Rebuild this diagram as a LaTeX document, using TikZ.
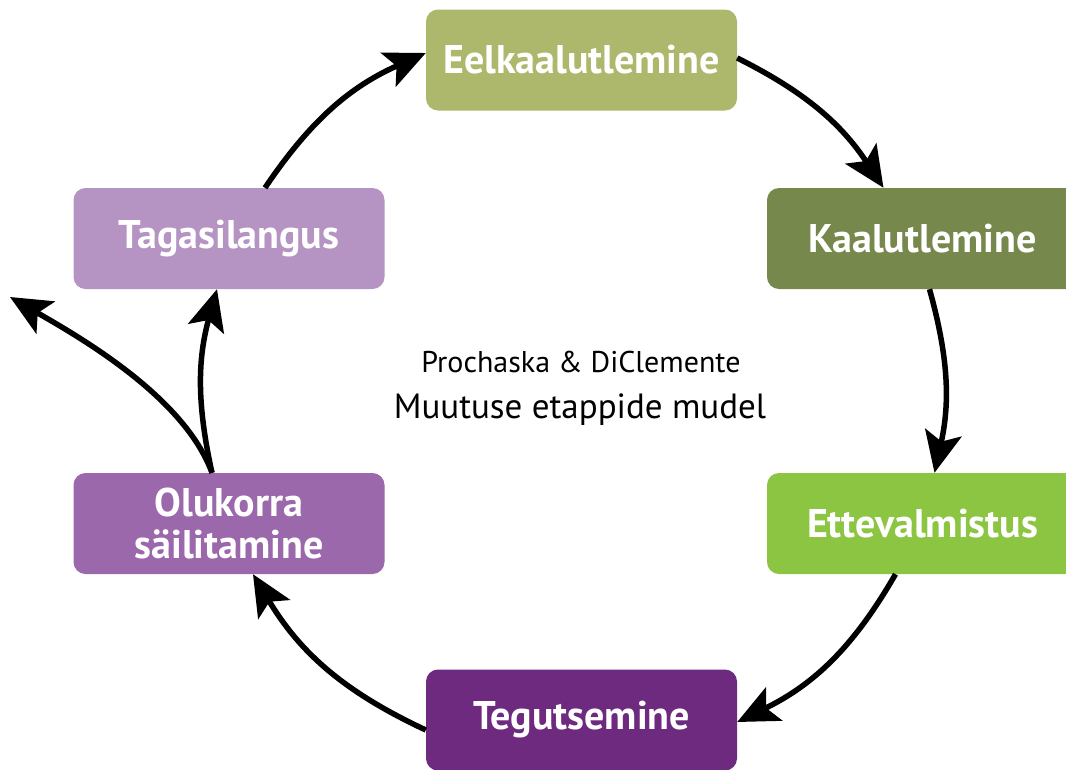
\documentclass[tikz,border=0pt]{standalone}
\usepackage{fontspec}
\setmainfont{PT Sans}
\usetikzlibrary{arrows.meta}
\definecolor{cEel}{HTML}{ADB86C}
\definecolor{cKaa}{HTML}{77884C}
\definecolor{cEtt}{HTML}{8CC542}
\definecolor{cTeg}{HTML}{6D2A7E}
\definecolor{cOlu}{HTML}{9A68AB}
\definecolor{cTag}{HTML}{B593C3}
\tikzset{
  stage/.style={rectangle, rounded corners=12pt, minimum width=311pt, minimum height=101pt,
    text=white, font=\fontsize{40}{42}\selectfont\bfseries, align=center, inner sep=0pt},
  conn/.style={line width=5.5pt, -{Stealth[length=41pt,width=37pt,inset=9pt]}},
}
\begin{document}
\begin{tikzpicture}[x=1pt,y=-1pt]
\useasboundingbox (0,0) rectangle (1066,769);
\node[stage, fill=cEel] (eel) at (581.5,60) {Eelkaalutlemine};
\node[stage, fill=cKaa] (kaa) at (922.5,238.5) {Kaalutlemine};
\node[stage, fill=cEtt] (ett) at (922.5,523.5) {Ettevalmistus};
\node[stage, fill=cTeg] (teg) at (581.5,720) {Tegutsemine};
\node[stage, fill=cOlu] (olu) at (229,523.5) {Olukorra\\säilitamine};
\node[stage, fill=cTag] (tag) at (229,238.5) {Tagasilangus};
\node[font=\fontsize{30}{34}\selectfont] (t1) at (581,362) {Prochaska \& DiClemente};
\node[font=\fontsize{35}{40}\selectfont] (t2) at (580,410) {Muutuse etappide mudel};
\coordinate (out) at (10,297);
\draw[conn] ([xshift=36pt]tag.north) to[bend left=16] ([yshift=7pt]eel.west);
\draw[conn] ([yshift=2pt]eel.east) to[bend left=15] ([xshift=-39pt]kaa.north);
\draw[conn] ([xshift=7pt]kaa.south) to[bend left=14] ([xshift=12pt]ett.north);
\draw[conn] ([xshift=-27pt]ett.south) to[bend left=17] ([yshift=-2pt]teg.east);
\draw[conn] ([yshift=-10pt]teg.west) to[bend left=17] ([xshift=24pt]olu.south);
\draw[conn] ([xshift=-17pt]olu.north) to[bend left=14] ([xshift=-12pt]tag.south);
\draw[conn] ([xshift=-17pt]olu.north) to[out=110,in=-30,looseness=0.77] (out);
\end{tikzpicture}
\end{document}
